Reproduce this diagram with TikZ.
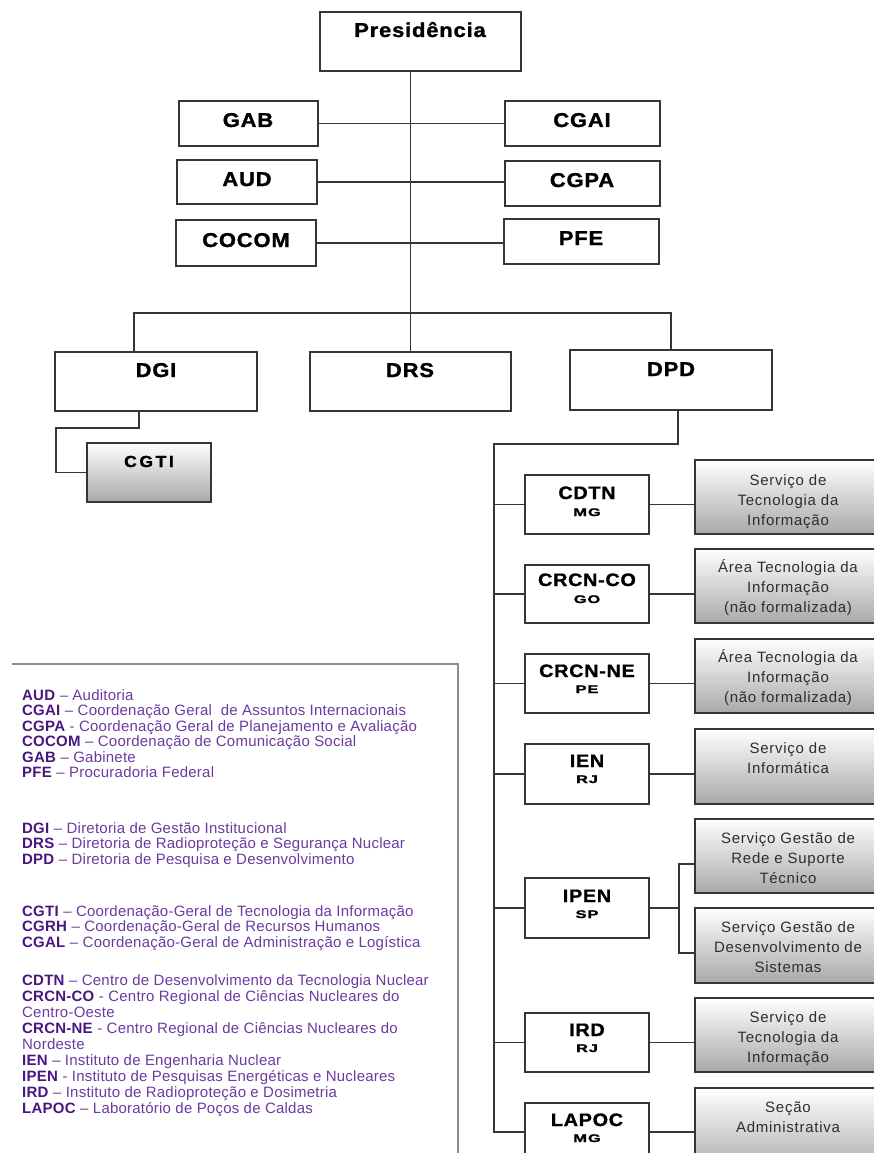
\documentclass[tikz,border=0pt]{standalone}
\usepackage{fontspec}
\setmainfont{Liberation Sans}
\newfontfamily\lblfont{Liberation Sans Bold}[LetterSpace=4, FakeStretch=1.1, FakeBold=1.2]
\newfontfamily\cgtifont{Liberation Sans Bold}[LetterSpace=16, FakeStretch=1.1, FakeBold=1.4]
\newfontfamily\subfont{Liberation Sans Bold}[LetterSpace=8, FakeStretch=1.5, FakeBold=1.5]
\newfontfamily\grayfont{Liberation Sans}[LetterSpace=5]
\newfontfamily\legfont{Liberation Sans}[LetterSpace=1.5]
\usetikzlibrary{calc}
\definecolor{linec}{HTML}{363636}
\definecolor{accol}{RGB}{72,22,130}
\definecolor{desccol}{RGB}{108,58,160}
\definecolor{graytxt}{HTML}{2E2E2E}
\tikzset{
  orgbox/.style={draw=linec, line width=1.4pt, fill=white, inner sep=0pt},
  graybox/.style={draw=linec, line width=1.4pt, top color=white, bottom color=gray!68, inner sep=0pt},
  conn/.style={draw=linec, line width=1.4pt},
  biglbl/.style={anchor=base, inner sep=0pt, font=\lblfont\fontsize{20}{22}\selectfont},
  unitlbl/.style={anchor=base, inner sep=0pt, font=\lblfont\fontsize{18}{21}\selectfont},
  sublbl/.style={anchor=base, inner sep=0pt, font=\subfont\fontsize{11}{12}\selectfont},
  graylbl/.style={anchor=base, inner sep=0pt, text=graytxt, font=\grayfont\fontsize{15}{20}\selectfont},
  legline/.style={anchor=base west, inner sep=0pt, text=desccol, font=\legfont\fontsize{15}{16}\selectfont},
  legframe/.style={draw=gray!90, line width=1.3pt}
}
\newcommand\mybox[6]{\node[#1, minimum width={(#5-#3)*1pt}, minimum height={(#6-#4)*1pt}] (#2) at ({(#3+#5)/2},{(#4+#6)/2}) {};}
\newcommand\ac[1]{\textcolor{accol}{\textbf{#1}}}
\begin{document}
\begin{tikzpicture}[x=1pt,y=-1pt]
\useasboundingbox (0,0) rectangle (873,1153);
% ---------- top level boxes
\mybox{orgbox}{pres}{320}{12}{521}{71}
\mybox{orgbox}{gab}{179}{101}{318}{146}
\mybox{orgbox}{cgai}{505}{101}{660}{146}
\mybox{orgbox}{aud}{177}{160}{317}{204}
\mybox{orgbox}{cgpa}{505}{161}{660}{206}
\mybox{orgbox}{cocom}{176}{220}{316}{266}
\mybox{orgbox}{pfe}{504}{219}{659}{264}
\mybox{orgbox}{dgi}{55}{352}{257}{411}
\mybox{orgbox}{drs}{310}{352}{511}{411}
\mybox{orgbox}{dpd}{570}{350}{772}{410}
\mybox{graybox}{cgti}{87}{443}{211}{502}
% units
\mybox{orgbox}{cdtn}{525}{475}{649}{534}
\mybox{orgbox}{crcnco}{525}{565}{649}{623}
\mybox{orgbox}{crcnne}{525}{654}{649}{713}
\mybox{orgbox}{ien}{525}{744}{649}{804}
\mybox{orgbox}{ipen}{525}{878}{649}{938}
\mybox{orgbox}{ird}{525}{1013}{649}{1072}
\mybox{orgbox}{lapoc}{525}{1103}{649}{1161}
% gray service boxes
\mybox{graybox}{s1}{695}{460}{882}{534}
\mybox{graybox}{s2}{695}{549}{882}{623}
\mybox{graybox}{s3}{695}{639}{882}{713}
\mybox{graybox}{s4}{695}{729}{882}{804}
\mybox{graybox}{s5}{695}{819}{882}{893}
\mybox{graybox}{s6}{695}{908}{882}{983}
\mybox{graybox}{s7}{695}{998}{882}{1072}
\mybox{graybox}{s8}{695}{1088}{882}{1175}
% ---------- labels
\node[biglbl] (pres-t) at (420,37) {Presidência};
\node[biglbl] (gab-t) at (248,127) {GAB};
\node[biglbl] (cgai-t) at (582,127) {CGAI};
\node[biglbl] (aud-t) at (247,186) {AUD};
\node[biglbl] (cgpa-t) at (582,187) {CGPA};
\node[biglbl] (cocom-t) at (246,247) {COCOM};
\node[biglbl] (pfe-t) at (581,245) {PFE};
\node[biglbl] (dgi-t) at (156,377) {DGI};
\node[biglbl] (drs-t) at (410,377) {DRS};
\node[biglbl] (dpd-t) at (671,376) {DPD};
\node[anchor=base, inner sep=0pt, font=\cgtifont\fontsize{16}{18}\selectfont] (cgti-t) at (149,467) {CGTI};
\node[unitlbl] (cdtn-t) at (587,499) {CDTN};
\node[sublbl] (cdtn-s) at (587,516) {MG};
\node[unitlbl] (crcnco-t) at (587,586) {CRCN-CO};
\node[sublbl] (crcnco-s) at (587,603) {GO};
\node[unitlbl] (crcnne-t) at (587,677) {CRCN-NE};
\node[sublbl] (crcnne-s) at (587,693) {PE};
\node[unitlbl] (ien-t) at (587,767) {IEN};
\node[sublbl] (ien-s) at (587,783) {RJ};
\node[unitlbl] (ipen-t) at (587,902) {IPEN};
\node[sublbl] (ipen-s) at (587,918) {SP};
\node[unitlbl] (ird-t) at (587,1036) {IRD};
\node[sublbl] (ird-s) at (587,1052) {RJ};
\node[unitlbl] (lapoc-t) at (587,1126) {LAPOC};
\node[sublbl] (lapoc-s) at (587,1142) {MG};
% gray texts
\node[graylbl] (s1-t) at (788,485) {\begin{tabular}[t]{@{}c@{}}Serviço de\\Tecnologia da\\Informação\end{tabular}};
\node[graylbl] (s2-t) at (788,572) {\begin{tabular}[t]{@{}c@{}}Área Tecnologia da\\Informação\\(não formalizada)\end{tabular}};
\node[graylbl] (s3-t) at (788,662) {\begin{tabular}[t]{@{}c@{}}Área Tecnologia da\\Informação\\(não formalizada)\end{tabular}};
\node[graylbl] (s4-t) at (788,753) {\begin{tabular}[t]{@{}c@{}}Serviço de\\Informática\end{tabular}};
\node[graylbl] (s5-t) at (788,843) {\begin{tabular}[t]{@{}c@{}}Serviço Gestão de\\Rede e Suporte\\Técnico\end{tabular}};
\node[graylbl] (s6-t) at (788,932) {\begin{tabular}[t]{@{}c@{}}Serviço Gestão de\\Desenvolvimento de\\Sistemas\end{tabular}};
\node[graylbl] (s7-t) at (788,1022) {\begin{tabular}[t]{@{}c@{}}Serviço de\\Tecnologia da\\Informação\end{tabular}};
\node[graylbl] (s8-t) at (788,1112) {\begin{tabular}[t]{@{}c@{}}Seção\\Administrativa\end{tabular}};
% ---------- connectors
\coordinate (bL) at (134,313);
\coordinate (k1) at (56,428);
\coordinate (dgiout) at (139,411);
\coordinate (dpdout) at (678,410);
\coordinate (spine) at (494,444);
\coordinate (ip1) at (679,864);
\coordinate (ip2) at (679,953);
\draw[conn] (pres.south -| drs.north) -- (drs.north);
\draw[conn] (gab.east) -- (gab.east -| cgai.west);
\draw[conn] (aud.east) -- (aud.east -| cgpa.west);
\draw[conn] (cocom.east) -- (cocom.east -| pfe.west);
\draw[conn] (dgi.north -| bL) -- (bL) -| (dpd.north);
\draw[conn] (dgiout) |- (k1) |- (cgti.west);
\draw[conn] (dpdout) |- (spine) |- (lapoc.west);
\foreach \u/\s in {cdtn/s1,crcnco/s2,crcnne/s3,ien/s4,ird/s7,lapoc/s8}{
  \draw[conn] (spine |- \u.west) -- (\u.west);
  \draw[conn] (\u.east) -- (\u.east -| \s.west);
}
\draw[conn] (spine |- ipen.west) -- (ipen.west);
\draw[conn] (ipen.east) -- (ipen.east -| ip1);
\draw[conn] (s5.west |- ip1) -| (ip2) -- (s6.west |- ip2);
% ---------- legend
\coordinate (lg1) at (12,664);
\coordinate (lg2) at (458,664);
\coordinate (lg3) at (458,1160);
\draw[legframe] (lg1) -- (lg2) -- (lg3);
\node[legline] (l1) at (22,700) {\ac{AUD} – Auditoria};
\node[legline] (l2) at (22,715.5) {\ac{CGAI} – Coordenação Geral\ \ de Assuntos Internacionais};
\node[legline] (l3) at (22,731) {\ac{CGPA} - Coordenação Geral de Planejamento e Avaliação};
\node[legline] (l4) at (22,746.5) {\ac{COCOM} – Coordenação de Comunicação Social};
\node[legline] (l5) at (22,762) {\ac{GAB} – Gabinete};
\node[legline] (l6) at (22,777.5) {\ac{PFE} – Procuradoria Federal};
\node[legline] (l7) at (22,833) {\ac{DGI} – Diretoria de Gestão Institucional};
\node[legline] (l8) at (22,848.5) {\ac{DRS} – Diretoria de Radioproteção e Segurança Nuclear};
\node[legline] (l9) at (22,864) {\ac{DPD} – Diretoria de Pesquisa e Desenvolvimento};
\node[legline] (l10) at (22,916) {\ac{CGTI} – Coordenação-Geral de Tecnologia da Informação};
\node[legline] (l11) at (22,931.5) {\ac{CGRH} – Coordenação-Geral de Recursos Humanos};
\node[legline] (l12) at (22,947) {\ac{CGAL} – Coordenação-Geral de Administração e Logística};
\node[legline] (l13) at (22,985) {\ac{CDTN} – Centro de Desenvolvimento da Tecnologia Nuclear};
\node[legline] (l14) at (22,1001) {\ac{CRCN-CO} - Centro Regional de Ciências Nucleares do};
\node[legline] (l15) at (22,1017) {Centro-Oeste};
\node[legline] (l16) at (22,1033) {\ac{CRCN-NE} - Centro Regional de Ciências Nucleares do};
\node[legline] (l17) at (22,1049) {Nordeste};
\node[legline] (l18) at (22,1065) {\ac{IEN} – Instituto de Engenharia Nuclear};
\node[legline] (l19) at (22,1081) {\ac{IPEN} - Instituto de Pesquisas Energéticas e Nucleares};
\node[legline] (l20) at (22,1097) {\ac{IRD} – Instituto de Radioproteção e Dosimetria};
\node[legline] (l21) at (22,1113) {\ac{LAPOC} – Laboratório de Poços de Caldas};
\end{tikzpicture}
\end{document}
